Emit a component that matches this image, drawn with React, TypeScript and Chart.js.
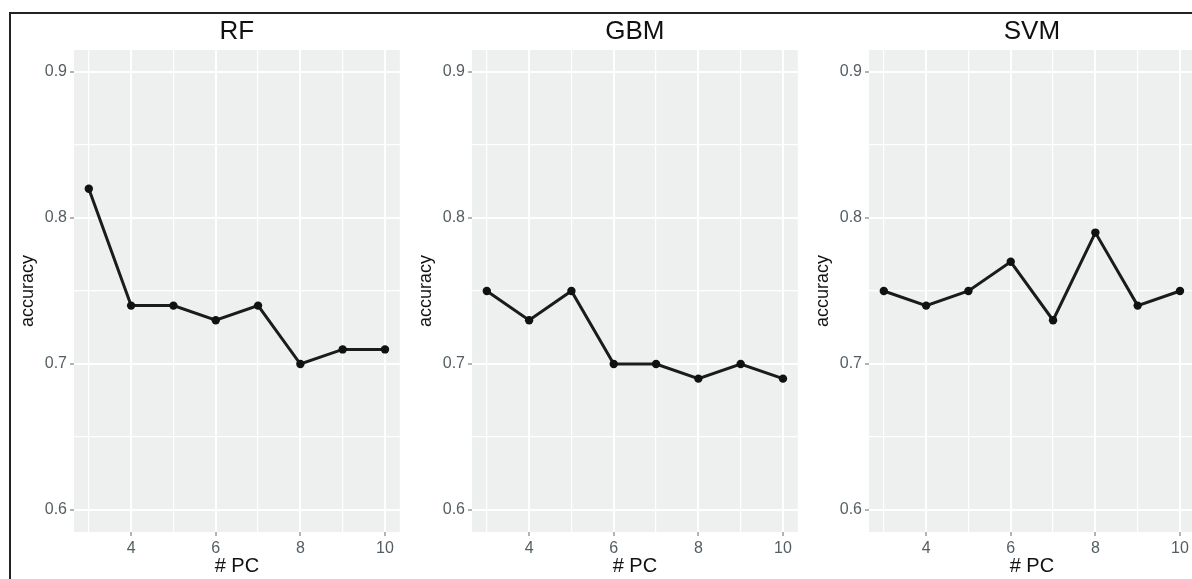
import React, { useEffect, useRef } from "react";
import { Chart, registerables } from "chart.js";

Chart.register(...registerables);

// Number of principal components used
const PCS = [3, 4, 5, 6, 7, 8, 9, 10];

// Accuracy per model
const RF_ACCURACY = [0.82, 0.74, 0.74, 0.73, 0.74, 0.7, 0.71, 0.71];
const GBM_ACCURACY = [0.75, 0.73, 0.75, 0.7, 0.7, 0.69, 0.7, 0.69];
const SVM_ACCURACY = [0.75, 0.74, 0.75, 0.77, 0.73, 0.79, 0.74, 0.75];

const MODEL_NAMES = ["RF", "GBM", "SVM"];

// Axis breaks (major ones carry labels, minor ones only grid lines)
const X_MAJOR_TICKS = [4, 6, 8, 10];
const X_MINOR_TICKS = [3, 5, 7, 9];
const Y_MAJOR_TICKS = [0.6, 0.7, 0.8, 0.9];
const Y_MINOR_TICKS = [0.65, 0.75, 0.85];

const X_LIMITS = [2.65, 10.35];
const Y_LIMITS = [0.585, 0.915];

const FONT = "'Liberation Sans', Arial, Helvetica, sans-serif";
const PANEL_BG = "#eef0f0";
const TICK_TEXT = "#545e62";

const CANVAS_W = 404;
const CANVAS_H = 579;

const isIn = (v: number, list: number[]) => list.some((m) => Math.abs(m - v) < 1e-9);

const panelBackground = {
  id: "panelBackground",
  beforeDraw(chart: any) {
    const { ctx, chartArea } = chart;
    if (!chartArea) return;
    ctx.save();
    ctx.fillStyle = PANEL_BG;
    ctx.fillRect(chartArea.left, chartArea.top, chartArea.right - chartArea.left, chartArea.bottom - chartArea.top);
    ctx.restore();
  },
};

function Panel({ title, values, left }: { title: string; values: number[]; left: number }) {
  const ref = useRef<HTMLCanvasElement | null>(null);

  useEffect(() => {
    if (!ref.current) return;
    const xAll = [...X_MINOR_TICKS, ...X_MAJOR_TICKS].sort((a, b) => a - b);
    const yAll = [...Y_MINOR_TICKS, ...Y_MAJOR_TICKS].sort((a, b) => a - b);

    const chart = new Chart(ref.current, {
      type: "line",
      data: {
        datasets: [
          {
            data: PCS.map((pc, i) => ({ x: pc, y: values[i] })),
            borderColor: "#1b1b1b",
            borderWidth: 3,
            backgroundColor: "#111111",
            pointBackgroundColor: "#111111",
            pointBorderColor: "#111111",
            pointRadius: 4.2,
            pointBorderWidth: 0,
            tension: 0,
          },
        ],
      },
      plugins: [panelBackground],
      options: {
        animation: false,
        responsive: false,
        devicePixelRatio: 1,
        layout: { padding: { left: 12, right: 2, top: 0, bottom: 0 } },
        plugins: {
          legend: { display: false },
          tooltip: { enabled: false },
          title: {
            display: true,
            fullSize: false,
            text: title,
            color: "#111111",
            font: { family: FONT, size: 26, weight: "normal", lineHeight: 1.2 },
            padding: { top: 16.5, bottom: 2.3 },
          },
        },
        scales: {
          x: {
            type: "linear",
            min: X_LIMITS[0],
            max: X_LIMITS[1],
            afterBuildTicks: (scale: any) => {
              scale.ticks = xAll.map((v) => ({ value: v }));
            },
            afterFit: (scale: any) => {
              scale.height = 47;
            },
            border: { display: false },
            grid: {
              color: "#ffffff",
              lineWidth: (c: any) => (c.tick && isIn(c.tick.value, X_MAJOR_TICKS) ? 2 : 1.2),
              tickColor: (c: any) => (c.tick && isIn(c.tick.value, X_MAJOR_TICKS) ? "#666666" : "rgba(0,0,0,0)"),
              tickLength: 4,
              tickWidth: 1,
            },
            ticks: {
              autoSkip: false,
              maxRotation: 0,
              padding: 2.5,
              color: TICK_TEXT,
              font: { family: FONT, size: 16 },
              callback: (v: any) => (isIn(Number(v), X_MAJOR_TICKS) ? String(v) : ""),
            },
            title: {
              display: true,
              text: "# PC",
              color: "#111111",
              font: { family: FONT, size: 20, lineHeight: 1.2 },
              padding: { top: 0, bottom: 0.5 },
            },
          },
          y: {
            type: "linear",
            min: Y_LIMITS[0],
            max: Y_LIMITS[1],
            afterBuildTicks: (scale: any) => {
              scale.ticks = yAll.map((v) => ({ value: v }));
            },
            afterFit: (scale: any) => {
              scale.width = 62;
            },
            border: { display: false },
            grid: {
              color: "#ffffff",
              lineWidth: (c: any) => (c.tick && isIn(c.tick.value, Y_MAJOR_TICKS) ? 2 : 1.2),
              tickColor: (c: any) => (c.tick && isIn(c.tick.value, Y_MAJOR_TICKS) ? "#666666" : "rgba(0,0,0,0)"),
              tickLength: 4,
              tickWidth: 1,
            },
            ticks: {
              autoSkip: false,
              padding: 3,
              color: TICK_TEXT,
              font: { family: FONT, size: 16 },
              callback: (v: any) => (isIn(Number(v), Y_MAJOR_TICKS) ? Number(v).toFixed(1) : ""),
            },
            title: {
              display: true,
              text: "accuracy",
              color: "#111111",
              font: { family: FONT, size: 18, lineHeight: 1.2 },
              padding: { top: 5.5, bottom: 0 },
            },
          },
        },
      },
    } as any);

    return () => chart.destroy();
  }, [title, values]);

  return (
    <canvas
      ref={ref}
      width={CANVAS_W}
      height={CANVAS_H}
      style={{ position: "absolute", left, top: 0, width: CANVAS_W, height: CANVAS_H }}
    />
  );
}

export default function App() {
  const series = [RF_ACCURACY, GBM_ACCURACY, SVM_ACCURACY];
  const lefts = [0, 398, 795];
  return (
    <div
      style={{
        position: "fixed",
        left: 0,
        top: 0,
        width: 1192,
        height: 579,
        overflow: "hidden",
        background: "#ffffff",
      }}
    >
      {MODEL_NAMES.map((name, i) => (
        <Panel key={name} title={name} values={series[i]} left={lefts[i]} />
      ))}
      <div
        style={{
          position: "absolute",
          left: 9,
          top: 12,
          width: 1200,
          height: 600,
          borderTop: "2px solid #222",
          borderLeft: "2px solid #222",
          pointerEvents: "none",
        }}
      />
    </div>
  );
}
